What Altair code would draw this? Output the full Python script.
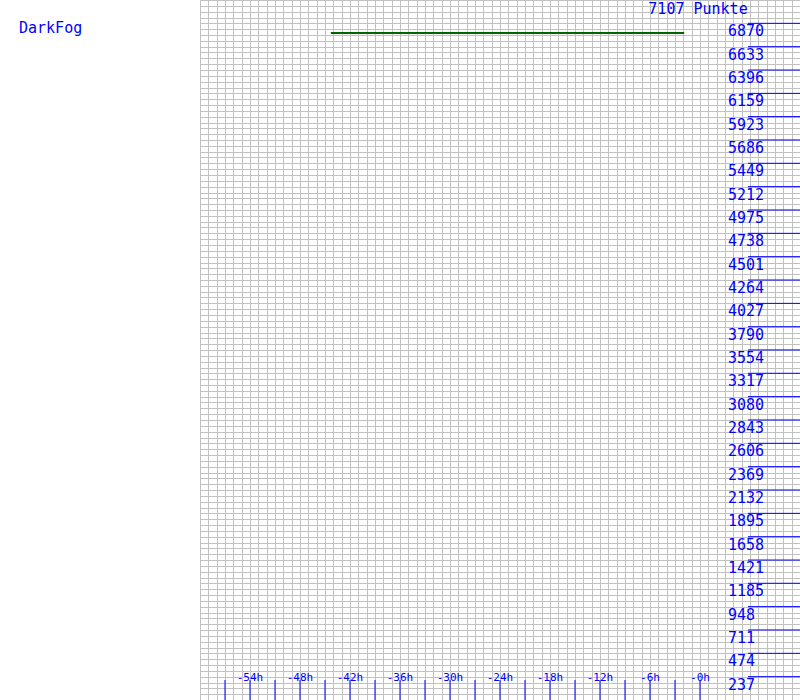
import altair as alt
import pandas as pd

# Data
line_hours = [-44.3, -1.9]
line_points = [6772, 6772]

y_tick_labels = ["6870", "6633", "6396", "6159", "5923", "5686", "5449", "5212",
                 "4975", "4738", "4501", "4264", "4027", "3790", "3554", "3317",
                 "3080", "2843", "2606", "2369", "2132", "1895", "1658", "1421",
                 "1185", "948", "711", "474", "237"]
y_tick_values = [6870, 6633, 6396, 6159, 5923, 5686, 5449, 5212,
                 4975, 4738, 4501, 4264, 4027, 3790, 3554, 3317,
                 3080, 2843, 2606, 2369, 2132, 1895, 1658, 1421,
                 1185, 948, 711, 474, 237]

x_tick_hours = [-57, -54, -51, -48, -45, -42, -39, -36, -33, -30, -27, -24,
                -21, -18, -15, -12, -9, -6, -3, 0]
x_label_hours = [-54, -48, -42, -36, -30, -24, -18, -12, -6, 0]
x_label_texts = ["-54h", "-48h", "-42h", "-36h", "-30h", "-24h", "-18h",
                 "-12h", "-6h", "-0h"]

total_points = 7107
title_text = "7107 Punkte"
name_text = "DarkFog"

BLUE = "#0000ff"
GRID = "#c0c0c0"
FONT = "DejaVu Sans Mono"

x_grid_values = list(range(-60, 13))
y_grid_values = [i * total_points / 120 for i in range(121)]

xscale = alt.Scale(domain=[-60, 12], nice=False, zero=False)
yscale = alt.Scale(domain=[0, total_points], nice=False, zero=False)
xaxis = alt.Axis(values=x_grid_values, grid=True, gridColor=GRID, gridOpacity=1,
                 gridWidth=1, labels=False, ticks=False, domain=False, title=None)
yaxis = alt.Axis(values=y_grid_values, grid=True, gridColor=GRID, gridOpacity=1,
                 gridWidth=1, labels=False, ticks=False, domain=False, title=None)

def xe(field):
    return alt.X(field, type="quantitative", scale=xscale, axis=xaxis)

def ye(field):
    return alt.Y(field, type="quantitative", scale=yscale, axis=yaxis)

line_df = pd.DataFrame({"h": line_hours, "p": line_points})
line = alt.Chart(line_df).mark_line(color="#006400", strokeWidth=2).encode(
    x=xe("h"), y=ye("p"))

ytick_df = pd.DataFrame({"v": y_tick_values, "t": y_tick_labels})
ytick_rules = alt.Chart(ytick_df).mark_rule(color=BLUE, strokeWidth=1).encode(
    y=ye("v"), x=alt.value(548), x2=alt.value(600))
ytick_text = alt.Chart(ytick_df).mark_text(
    color=BLUE, font=FONT, fontSize=15, align="left", baseline="middle", dy=8
).encode(y=ye("v"), x=alt.value(528), text="t:N")

xtick_df = pd.DataFrame({"h": x_tick_hours})
xtick_rules = alt.Chart(xtick_df).mark_rule(color=BLUE, strokeWidth=1).encode(
    x=xe("h"), y=alt.value(680), y2=alt.value(700))
xlab_df = pd.DataFrame({"h": x_label_hours, "t": x_label_texts})
xtick_text = alt.Chart(xlab_df).mark_text(
    color=BLUE, font=FONT, fontSize=11, align="center", baseline="middle"
).encode(x=xe("h"), y=alt.value(678), text="t:N")

title = alt.Chart(pd.DataFrame({"t": [title_text]})).mark_text(
    color=BLUE, font=FONT, fontSize=15, align="center", baseline="middle"
).encode(x=alt.value(498), y=alt.value(9), text="t:N")

name = alt.Chart(pd.DataFrame({"t": [name_text]})).mark_text(
    color=BLUE, font=FONT, fontSize=15, align="left", baseline="middle"
).encode(x=alt.value(-181), y=alt.value(28), text="t:N")

chart = alt.layer(
    line, ytick_rules, ytick_text, xtick_rules, xtick_text, title, name
).properties(
    width=600, height=700,
    padding={"left": 200, "top": 0, "right": 0, "bottom": 0},
    autosize=alt.AutoSizeParams(type="none"),
    background="white",
).configure_view(strokeWidth=0)

chart.save("out.html", embed_options={"renderer": "svg", "actions": False})
